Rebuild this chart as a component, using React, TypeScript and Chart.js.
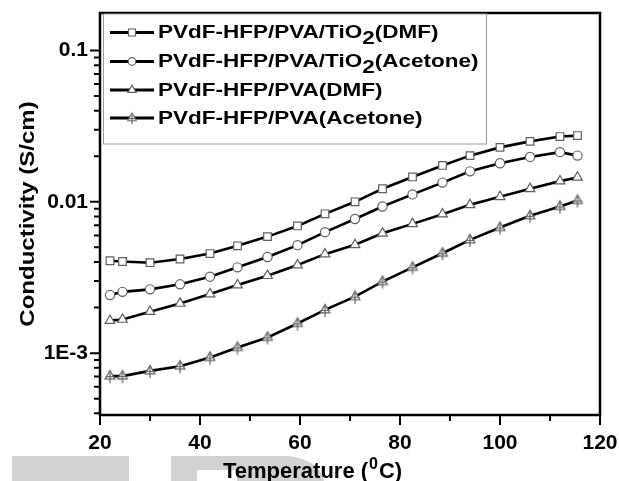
import { useEffect, useRef } from 'react';
import { Chart, registerables } from 'chart.js';

Chart.register(...registerables);

// ---- data ----
const temperatures = [22, 24.5, 30, 36, 42, 47.5, 53.5, 59.5, 65, 71, 76.5, 82.5, 88.5, 94, 100, 106, 112, 115.5];
const tio2Dmf = [0.00408, 0.00403, 0.00396, 0.00419, 0.00455, 0.00512, 0.00589, 0.00693, 0.00833, 0.0100, 0.0122, 0.0146, 0.0174, 0.0202, 0.0229, 0.0251, 0.0270, 0.0274];
const tio2Acetone = [0.00242, 0.00254, 0.00264, 0.00285, 0.00320, 0.00369, 0.00432, 0.00517, 0.00630, 0.0077, 0.00931, 0.0112, 0.0134, 0.0159, 0.0180, 0.0198, 0.0213, 0.0202];
const pvaDmf = [0.00164, 0.00167, 0.00188, 0.00213, 0.00246, 0.00282, 0.00325, 0.00382, 0.00451, 0.0052, 0.0062, 0.00715, 0.00829, 0.00955, 0.0108, 0.0122, 0.0137, 0.0145];
const pvaAcetone = [0.000705, 0.000705, 0.000763, 0.00082, 0.000935, 0.00109, 0.00127, 0.00157, 0.00193, 0.00236, 0.00297, 0.00369, 0.00457, 0.0056, 0.00676, 0.00808, 0.00931, 0.0102];

const seriesNames = [
  'PVdF-HFP/PVA/TiO₂(DMF)',
  'PVdF-HFP/PVA/TiO₂(Acetone)',
  'PVdF-HFP/PVA(DMF)',
  'PVdF-HFP/PVA(Acetone)',
];
const xTickValues = [20, 40, 60, 80, 100, 120];
const yMajorValues = [0.001, 0.01, 0.1];
const yMajorLabels = ['1E-3', '0.01', '0.1'];
const xTitle = ['Temperature (', '0', 'C)'];
const yTitle = 'Conductivity (S/cm)';

const FONT = "'Liberation Sans', Arial, sans-serif";
const MARKER_STROKE = '#5f5f5f';

function makeTrianglePlus(): HTMLCanvasElement {
  const c = document.createElement('canvas');
  c.width = 18;
  c.height = 18;
  const g = c.getContext('2d')!;
  const cx = 9, cy = 9, r = 5.6;
  g.beginPath();
  for (let i = 0; i < 3; i++) {
    const a = (i * 2 * Math.PI) / 3;
    const px = cx + Math.sin(a) * r;
    const py = cy - Math.cos(a) * r;
    if (i === 0) g.moveTo(px, py); else g.lineTo(px, py);
  }
  g.closePath();
  g.fillStyle = '#fff';
  g.fill();
  g.strokeStyle = MARKER_STROKE;
  g.lineWidth = 1.2;
  g.stroke();
  g.beginPath();
  g.moveTo(cx, cy - r + 1);
  g.lineTo(cx, cy + r + 1.5);
  g.moveTo(cx - 4.5, cy + 0.5);
  g.lineTo(cx + 4.5, cy + 0.5);
  g.stroke();
  return c;
}

function drawTextWithScript(ctx: CanvasRenderingContext2D, text: string, x: number, y: number, size: number, stretch: number) {
  // draws text where '₂' is rendered as a lowered '2'
  const parts = text.split('₂');
  ctx.save();
  ctx.translate(x, y);
  ctx.scale(stretch, 1);
  ctx.font = `bold ${size}px ${FONT}`;
  ctx.textBaseline = 'middle';
  ctx.textAlign = 'left';
  let cx = 0;
  parts.forEach((p, i) => {
    ctx.fillText(p, cx, 0);
    cx += ctx.measureText(p).width;
    if (i < parts.length - 1) {
      ctx.fillText('2', cx, size * 0.3);
      cx += ctx.measureText('2').width;
    }
  });
  ctx.restore();
}

function zeroPad(s: any) {
  s.paddingLeft = 0;
  s.paddingRight = 0;
  s.paddingTop = 0;
  s.paddingBottom = 0;
}

export default function App() {
  const ref = useRef<HTMLCanvasElement | null>(null);

  useEffect(() => {
    const canvas = ref.current;
    if (!canvas) return;
    const triPlus = makeTrianglePlus();
    const styles: any[] = ['rect', 'circle', 'triangle', triPlus];
    const radii = [5.4, 4.6, 5.6, 6];
    const seriesData = [tio2Dmf, tio2Acetone, pvaDmf, pvaAcetone];

    const decor = {
      id: 'decor',
      beforeDraw(chart: any) {
        const ctx = chart.ctx as CanvasRenderingContext2D;
        ctx.save();
        ctx.fillStyle = '#fff';
        ctx.fillRect(0, 0, chart.width, chart.height);
        ctx.fillStyle = '#d2d2d2';
        ctx.fillRect(12, 456, 117, 25);
        ctx.beginPath();
        ctx.moveTo(171, 481);
        ctx.lineTo(171, 456);
        ctx.lineTo(288, 456);
        ctx.quadraticCurveTo(320, 460, 324, 481);
        ctx.closePath();
        ctx.fill();
        ctx.fillStyle = '#fff';
        ctx.fillRect(197, 470, 40, 11);
        ctx.restore();
      },
      afterDraw(chart: any) {
        const ctx = chart.ctx as CanvasRenderingContext2D;
        const area = chart.chartArea;
        const xs = chart.scales.x;
        const ys = chart.scales.y;
        ctx.save();
        // frame
        ctx.strokeStyle = '#000';
        ctx.lineWidth = 2.5;
        ctx.strokeRect(area.left, area.top, area.right - area.left, area.bottom - area.top);
        // x ticks
        ctx.lineWidth = 2;
        ctx.beginPath();
        xTickValues.forEach((v, i) => {
          const px = xs.getPixelForValue(v);
          ctx.moveTo(px, area.bottom);
          ctx.lineTo(px, area.bottom + 10);
          if (i < xTickValues.length - 1) {
            const mx = xs.getPixelForValue((v + xTickValues[i + 1]) / 2);
            ctx.moveTo(mx, area.bottom);
            ctx.lineTo(mx, area.bottom + 6);
          }
        });
        // y ticks
        const lo = Math.floor(Math.log10(ys.min));
        const hi = Math.ceil(Math.log10(ys.max));
        for (let e = lo; e <= hi; e++) {
          for (let k = 1; k <= 9; k++) {
            const v = k * Math.pow(10, e);
            if (v < ys.min || v > ys.max) continue;
            const py = ys.getPixelForValue(v);
            ctx.moveTo(area.left, py);
            ctx.lineTo(area.left - (k === 1 ? 10 : 6), py);
          }
        }
        ctx.stroke();

        // legend
        const lx = 103.5, ly = 14, lw = 383, lh = 130;
        ctx.fillStyle = '#fff';
        ctx.fillRect(lx, ly, lw, lh);
        ctx.strokeStyle = '#9a9a9a';
        ctx.lineWidth = 1;
        ctx.strokeRect(lx, ly, lw, lh);
        const rows = [32.5, 61.5, 90, 118];
        seriesNames.forEach((name, i) => {
          const y = rows[i];
          ctx.strokeStyle = '#000';
          ctx.lineWidth = 2.8;
          ctx.beginPath();
          ctx.moveTo(110, y);
          ctx.lineTo(154, y);
          ctx.stroke();
          ctx.save();
          ctx.fillStyle = '#fff';
          ctx.strokeStyle = MARKER_STROKE;
          ctx.lineWidth = 1.2;
          if (typeof styles[i] === 'string') {
            ctx.beginPath();
            if (styles[i] === 'rect') ctx.rect(128.5, y - 3.5, 7, 7);
            else if (styles[i] === 'circle') ctx.arc(132, y, 3.8, 0, Math.PI * 2);
            else {
              const r = 4.8;
              ctx.moveTo(132, y - r);
              ctx.lineTo(132 + r * 0.866, y + r / 2);
              ctx.lineTo(132 - r * 0.866, y + r / 2);
              ctx.closePath();
            }
            ctx.fill();
            ctx.stroke();
          } else {
            ctx.drawImage(styles[i], 132 - 8, y - 8, 16, 16);
          }
          ctx.restore();
          ctx.fillStyle = '#000';
          drawTextWithScript(ctx, name, 158, y + 1, 18, 1.25);
        });

        // x title
        ctx.fillStyle = '#000';
        ctx.textBaseline = 'alphabetic';
        ctx.textAlign = 'left';
        ctx.font = `bold 22px ${FONT}`;
        let tx = 223;
        ctx.fillText(xTitle[0], tx, 478);
        tx += ctx.measureText(xTitle[0]).width;
        ctx.font = `bold 16px ${FONT}`;
        ctx.fillText(xTitle[1], tx + 1, 469);
        tx += ctx.measureText(xTitle[1]).width + 2;
        ctx.font = `bold 22px ${FONT}`;
        ctx.fillText(xTitle[2], tx, 478);

        // y title
        ctx.save();
        ctx.translate(28, 214);
        ctx.rotate(-Math.PI / 2);
        ctx.scale(1.2, 1);
        ctx.font = `bold 20px ${FONT}`;
        ctx.textAlign = 'center';
        ctx.textBaseline = 'middle';
        ctx.fillText(yTitle, 0, 0);
        ctx.restore();

        ctx.restore();
      },
    };

    const chart = new Chart(canvas, {
      type: 'line',
      data: {
        datasets: seriesData.map((d, i) => ({
          label: seriesNames[i],
          data: d.map((v, j) => ({ x: temperatures[j], y: v })),
          borderColor: '#000',
          borderWidth: 2.6,
          pointStyle: styles[i],
          pointRadius: radii[i],
          pointBorderColor: MARKER_STROKE,
          pointBackgroundColor: '#fff',
          pointBorderWidth: 1.2,
          tension: 0,
          fill: false,
        })),
      },
      options: {
        responsive: false,
        animation: false,
        layout: { padding: { left: 0, right: 19, top: 13, bottom: 0 }, autoPadding: false } as any,
        plugins: {
          legend: { display: false },
          tooltip: { enabled: false },
        },
        scales: {
          x: {
            type: 'linear',
            min: 20,
            max: 120,
            afterFit: (s: any) => { s.height = 66; zeroPad(s); },
            afterBuildTicks: (s: any) => { s.ticks = xTickValues.map((v) => ({ value: v })); },
            grid: { display: false, drawTicks: false },
            border: { display: false },
            ticks: {
              font: { family: FONT, size: 21, weight: 'bold' },
              color: '#000',
              padding: 16,
              maxRotation: 0,
            },
          },
          y: {
            type: 'logarithmic',
            min: 0.00039,
            max: 0.177,
            afterFit: (s: any) => { s.width = 100; zeroPad(s); },
            afterBuildTicks: (s: any) => { s.ticks = yMajorValues.map((v) => ({ value: v })); },
            grid: { display: false, drawTicks: false },
            border: { display: false },
            ticks: {
              font: { family: FONT, size: 21, weight: 'bold' },
              color: '#000',
              padding: 12,
              callback: (v: any) => {
                const idx = yMajorValues.findIndex((m) => Math.abs(Math.log10(m) - Math.log10(Number(v))) < 1e-6);
                return idx >= 0 ? yMajorLabels[idx] : '';
              },
            },
          },
        },
      },
      plugins: [decor],
    });
    return () => chart.destroy();
  }, []);

  return (
    <div style={{ position: 'fixed', left: 0, top: 0, width: 619, height: 481, background: '#fff' }}>
      <canvas ref={ref} width={619} height={481} style={{ display: 'block', width: 619, height: 481 }} />
    </div>
  );
}
